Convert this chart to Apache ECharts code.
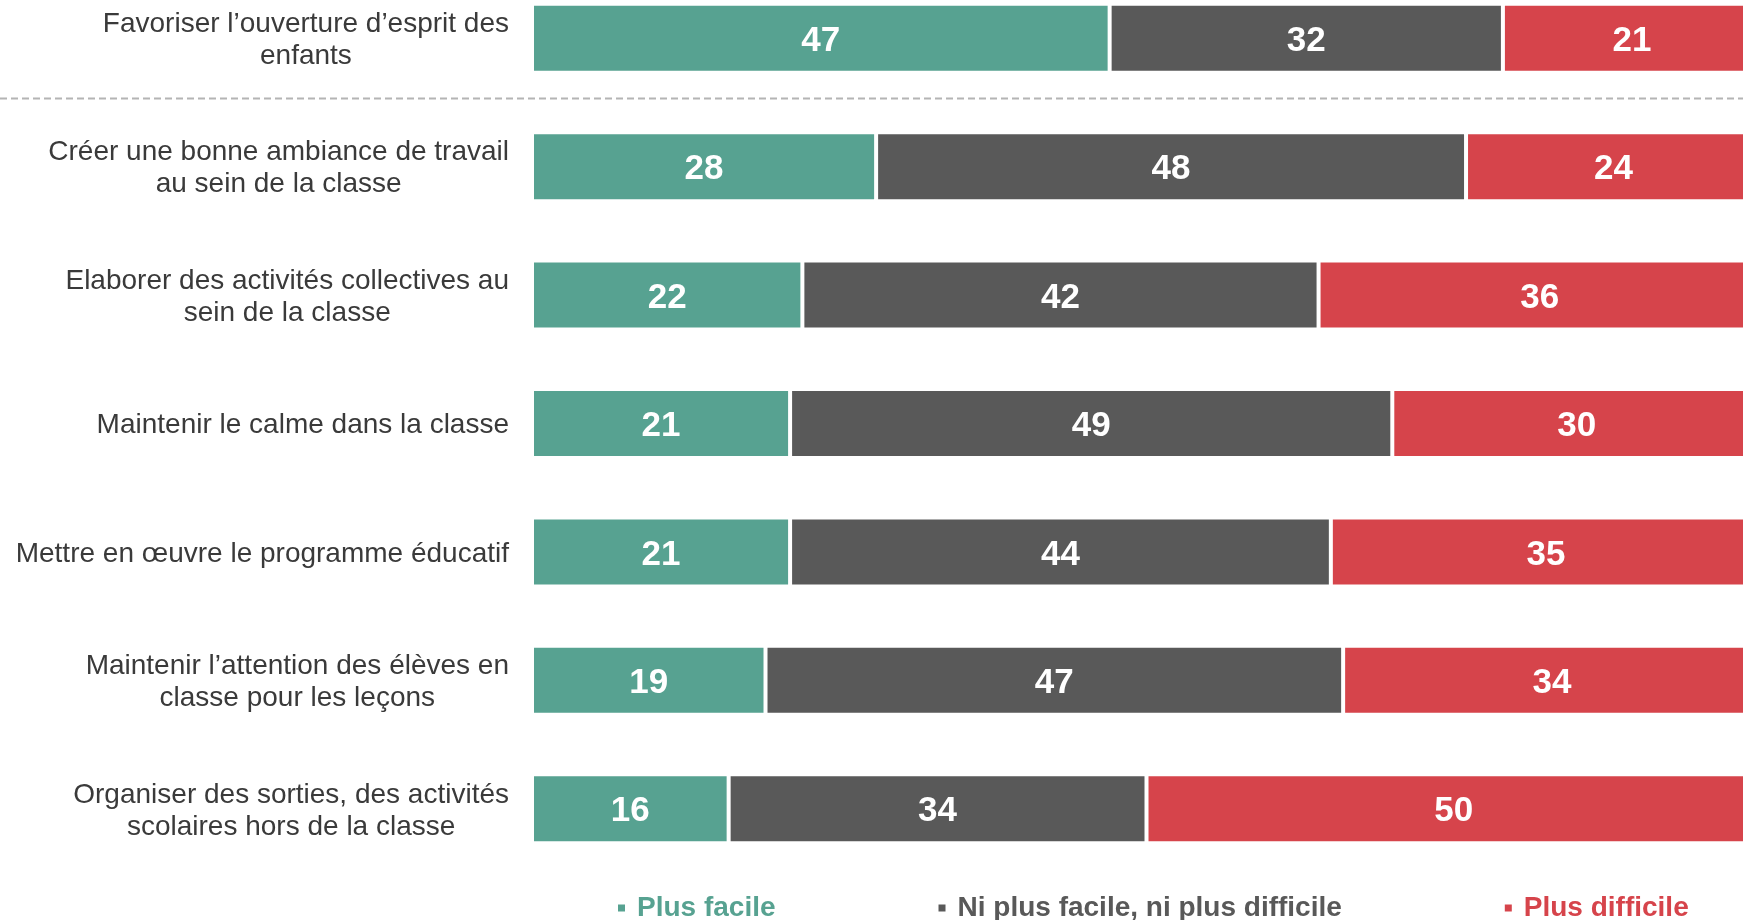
<!DOCTYPE html>
<html>
<head>
<meta charset="utf-8">
<script src="https://cdn.jsdelivr.net/npm/echarts@6/dist/echarts.min.js"></script>
<style>
  html, body { margin: 0; padding: 0; background: #fff; }
  #chart { width: 1743px; height: 920px; }
</style>
</head>
<body>
<div id="chart"></div>
<script>
// categories (top to bottom)
var categories = [
  'Favoriser l’ouverture d’esprit des\nenfants',
  'Créer une bonne ambiance de travail\nau sein de la classe',
  'Elaborer des activités collectives au\nsein de la classe',
  'Maintenir le calme dans la classe',
  'Mettre en œuvre le programme éducatif',
  'Maintenir l’attention des élèves en\nclasse pour les leçons',
  'Organiser des sorties, des activités\nscolaires hors de la classe'
];
var seriesNames = ['Plus facile', 'Ni plus facile, ni plus difficile', 'Plus difficile'];
var plusFacile = [47, 28, 22, 21, 21, 19, 16];
var niNi = [32, 48, 42, 49, 44, 47, 34];
var plusDifficile = [21, 24, 36, 30, 35, 34, 50];
var colors = ['#57A291', '#595959', '#D6444B'];

var font = '"Liberation Sans", Arial, sans-serif';
var chart = echarts.init(document.getElementById('chart'));

function barSeries(name, data, color) {
  return {
    name: name,
    type: 'bar',
    stack: 'total',
    barWidth: 69,
    data: data,
    itemStyle: { color: color, borderColor: '#fff', borderWidth: 2 },
    label: {
      show: true,
      position: 'inside',
      offset: [0, 3],
      color: '#fff',
      fontFamily: font,
      fontWeight: 'bold',
      fontSize: 35
    }
  };
}

var option = {
  animation: false,
  color: colors,
  grid: { left: 532, width: 1229, top: -26, height: 899, outerBoundsMode: 'none', containLabel: false },
  xAxis: {
    type: 'value', min: 0, max: 100, show: false,
    splitLine: { show: false }
  },
  yAxis: {
    type: 'category',
    inverse: true,
    data: categories,
    axisLine: { show: false },
    axisTick: { show: false },
    axisLabel: {
      margin: 23,
      align: 'right',
      padding: [4, 0, 0, 0],
      formatter: function (v) {
        return v.split('\n').map(function (l) { return '{c|' + l + '}'; }).join('\n');
      },
      rich: {
        c: {
          align: 'center',
          fontFamily: font,
          fontSize: 28,
          lineHeight: 32,
          color: '#3a3a3a'
        }
      }
    }
  },
  legend: {
    left: 613,
    top: 889,
    icon: 'rect',
    itemWidth: 7,
    itemHeight: 7,
    itemGap: 163,
    itemStyle: { borderWidth: 0 },
    selectedMode: false,
    data: seriesNames.map(function (n, i) {
      return {
        name: n,
        textStyle: { color: colors[i] }
      };
    }),
    textStyle: {
      fontFamily: font,
      fontWeight: 'bold',
      fontSize: 28,
      padding: [0, 0, 0, 7]
    }
  },
  series: [
    barSeries(seriesNames[0], plusFacile, colors[0]),
    barSeries(seriesNames[1], niNi, colors[1]),
    barSeries(seriesNames[2], plusDifficile, colors[2])
  ]
};
chart.setOption(option);

// dashed separator between the first row and the rest
var y0 = chart.convertToPixel({ yAxisIndex: 0 }, categories[0]);
var y1 = chart.convertToPixel({ yAxisIndex: 0 }, categories[1]);
var ySep = Math.round((y0 + y1) / 2) - 4 + 0.5;
chart.setOption({
  graphic: [{
    type: 'line',
    shape: { x1: 0, y1: ySep, x2: 1743, y2: ySep },
    style: { stroke: '#b4b4b4', lineWidth: 2, lineDash: [7, 4] },
    silent: true
  }]
});
</script>
</body>
</html>
